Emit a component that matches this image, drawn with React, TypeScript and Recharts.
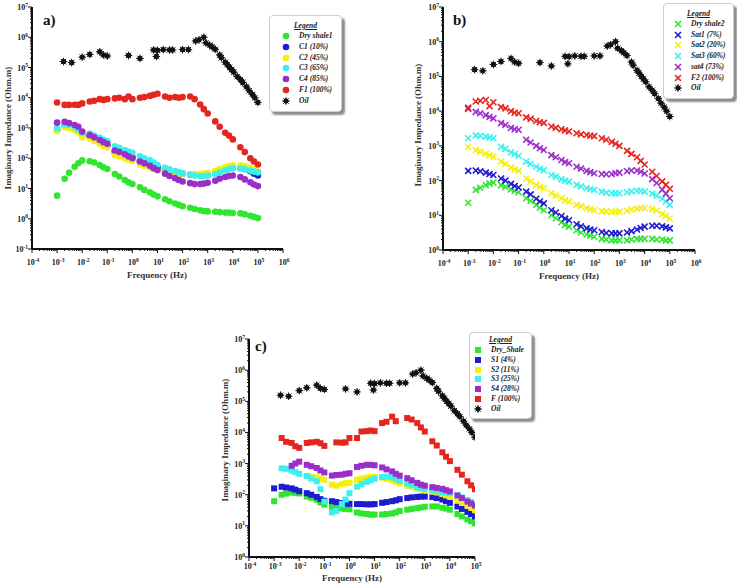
import React from "react";
import { ScatterChart, Scatter, XAxis, YAxis } from "recharts";

const SERIF = '"Liberation Serif", "Times New Roman", serif';

const GREEN = "#2fe62f";
const BLUE = "#1c1cd0";
const YELLOW = "#f4f00c";
const CYAN = "#3cf0f0";
const PURPLE = "#9a2ec9";
const RED = "#e4261f";
const BLACK = "#111";

// frequency sweep (Hz) used by every sample series
const FREQ = [
  0.001, 0.002, 0.003, 0.005, 0.007, 0.01, 0.02, 0.03, 0.05, 0.07, 0.1, 0.2, 0.3, 0.5, 0.7, 1, 2, 3, 5, 7,
  10, 20, 30, 50, 70, 100, 200, 300, 500, 700, 1000, 2000, 3000, 5000, 7000, 10000, 20000, 30000, 50000,
  70000, 100000,
];

// oil reference, identical in all three panels
const OIL_FREQ = [
  0.0018, 0.0038, 0.01, 0.02, 0.05, 0.07, 0.1, 0.7, 2, 7, 9, 10, 17, 30, 40, 100, 170, 330, 450, 700, 850,
  1200, 1500, 2000, 3000, 3500, 5000, 6000, 7500, 9000, 11000, 15000, 20000, 25000, 35000, 45000, 60000,
  75000, 100000,
];
const OIL_Z = [
  157000, 145000, 220000, 270000, 330000, 260000, 240000, 250000, 200000, 380000, 230000, 370000, 390000,
  380000, 380000, 390000, 390000, 750000, 820000, 1000000, 650000, 550000, 480000, 400000, 260000, 210000,
  150000, 125000, 100000, 85000, 70000, 50000, 40000, 32000, 23000, 17000, 13000, 10000, 7000,
];

// panel a) - shale 1
const DRY1 = [5.8, 21, 33, 52, 68, 85, 80, 72, 60, 50, 44, 30, 25, 19, 16, 14, 11, 9, 7.5, 6.3, 5.5, 4.4, 3.8, 3.2, 2.9, 2.6, 2.3, 2.1, 1.9, 1.8, 1.75, 1.7, 1.65, 1.6, 1.6, 1.55, 1.5, 1.4, 1.25, 1.15, 1.05];
const C1 = [850, 1150, 1100, 950, 800, 580, 520, 440, 360, 310, 270, 160, 150, 130, 115, 105, 80, 72, 62, 56, 50, 42, 38, 34, 32, 31, 29, 28, 27, 27, 28, 32, 37, 43, 47, 50, 48, 44, 37, 31, 27];
const C2 = [780, 1050, 980, 850, 720, 490, 440, 370, 300, 260, 230, 125, 115, 100, 90, 82, 62, 56, 49, 44, 40, 36, 34, 32, 31, 31, 30, 30, 30, 31, 33, 38, 44, 50, 55, 58, 58, 55, 48, 42, 37];
const C3 = [980, 1300, 1250, 1050, 900, 700, 650, 560, 470, 410, 370, 250, 220, 185, 165, 150, 115, 100, 85, 72, 60, 48, 43, 38, 35, 32, 29, 27, 26, 26, 27, 30, 34, 40, 44, 47, 46, 43, 39, 36, 34];
const C4 = [1500, 1600, 1450, 1250, 1100, 760, 580, 490, 400, 340, 300, 180, 160, 135, 115, 100, 78, 68, 56, 47, 41, 31, 26, 22, 19, 17, 15, 14, 14, 14.5, 15.5, 18, 21, 24, 26, 27, 24, 20, 16, 13.5, 12];
const F1 = [7000, 5800, 5800, 5900, 5800, 6500, 7500, 8000, 9000, 8500, 9000, 9500, 10000, 9000, 11000, 9000, 10000, 10500, 11500, 12500, 13500, 11000, 10000, 10500, 10000, 10500, 11000, 9000, 6000, 4200, 3000, 1650, 1100, 700, 560, 420, 230, 160, 100, 78, 62];

// panel b) - shale 2
const DRY2 = [23, 54, 62, 74, 82, 87, 74, 66, 56, 50, 46, 31, 26, 20, 16.5, 14, 10, 8.2, 6.3, 5.3, 4.7, 3.7, 3.2, 2.8, 2.6, 2.4, 2.1, 2.0, 1.9, 1.9, 1.9, 1.9, 2.0, 2.1, 2.1, 2.1, 2.1, 2.0, 2.0, 1.9, 1.9];
const SAT1 = [190, 195, 185, 170, 155, 145, 115, 100, 80, 70, 63, 48, 40, 30, 25, 22, 14, 12, 9.5, 8, 7.2, 5.5, 4.8, 4.2, 3.9, 3.7, 3.3, 3.1, 3.0, 3.0, 3.0, 3.2, 3.5, 3.9, 4.3, 4.7, 5.0, 5.0, 4.8, 4.5, 4.2];
const SAT2 = [940, 760, 680, 590, 530, 490, 350, 300, 240, 210, 190, 115, 95, 75, 66, 60, 43, 37, 31, 27, 25, 20, 18, 16, 15, 14, 13, 12.8, 12.5, 12.6, 12.8, 13.5, 14.5, 15.5, 16, 16, 15, 13.5, 11, 9.5, 8.1];
const SAT3 = [1650, 2000, 1950, 1850, 1750, 1650, 940, 820, 650, 580, 520, 350, 300, 250, 220, 200, 145, 130, 110, 100, 93, 75, 68, 60, 57, 54, 48, 45, 43, 43, 43, 46, 49, 51, 50, 48, 42, 37, 30, 25, 20];
const SAT4 = [11500, 9500, 8700, 7700, 6800, 6200, 4500, 4000, 3300, 3000, 2900, 1500, 1250, 1000, 850, 760, 540, 470, 390, 340, 315, 250, 220, 190, 175, 162, 155, 152, 155, 162, 170, 185, 195, 195, 180, 160, 110, 85, 55, 42, 31];
const F2 = [12600, 19000, 20000, 21000, 14000, 18000, 13000, 12000, 10000, 9000, 8700, 6600, 6000, 5200, 4800, 4600, 3600, 3300, 3000, 2800, 2600, 2300, 2150, 2050, 1950, 1900, 1650, 1500, 1300, 1150, 1000, 720, 590, 470, 370, 290, 180, 135, 95, 75, 58];

// panel c) - shale 3 (null = no reading at that frequency)
const DRY3 = [62, 100, 108, 117, 114, 110, 87, 80, 69, 56, 48, 40, 38, 36, 35, 34, 27, 25, 24, 23, 23, 23, 24, 25, 27, 30, 33, 35, 37, 39, 41, 42, 42, 38, 36, 33, 24, 20, 16, 14, 12];
const S1 = [160, 180, 170, 160, 145, 130, 112, 100, 85, 72, 64, 62, 58, 54, 52, 51, 50, 50, 49, 49, 50, 55, 58, 62, 66, 72, 78, 82, 85, 87, 87, 84, 78, 70, 62, 55, 42, 35, 28, 24, 20];
const S2 = [null, null, null, null, null, null, 400, 380, 360, 330, 300, 210, 195, 220, 235, 240, 300, 330, 350, 370, 380, 350, 320, 290, 260, 230, 195, 180, 160, 150, 140, 125, 118, 105, 95, 85, 65, 55, 45, 38, 32];
const S3 = [null, 700, 680, 600, 540, 470, 400, 330, 270, 150, 60, 27, 30, 50, 70, 112, 180, 220, 260, 290, 330, 370, 380, 360, 320, 280, 230, 200, 175, 165, 155, 140, 130, 122, 117, 112, 95, 82, 68, 58, 48];
const S4 = [null, null, null, 850, 1000, 1150, 910, 820, 720, 600, 520, 410, 430, 440, 470, 490, 780, 850, 910, 910, 880, 750, 650, 560, 470, 410, 340, 290, 240, 210, 195, 175, 165, 155, 140, 128, 95, 78, 60, 52, 45];
const F3 = [null, 6600, 5000, 4600, 3600, 3200, 4600, 4800, 5000, 4500, 3700, null, 4800, 4700, 4800, 6600, 6600, 10700, 11000, 11500, 11000, 20000, 22000, 32000, 23000, null, 29000, 26000, 20000, 14500, 10700, 5200, 3800, 2300, 1660, 1200, 630, 440, 270, 200, 150];

// decade exponents for the axis labels
const X_EXP_AB = [-4, -3, -2, -1, 0, 1, 2, 3, 4, 5, 6];
const X_EXP_C = [-4, -3, -2, -1, 0, 1, 2, 3, 4, 5];
const Y_EXP_A = [-1, 0, 1, 2, 3, 4, 5, 6, 7];
const Y_EXP_BC = [0, 1, 2, 3, 4, 5, 6, 7];

type Marker = "circle" | "cross" | "square" | "star";
type Point = { f: number; z: number };

interface Series {
  name: string;
  color: string;
  values: (number | null)[];
}

const toPoints = (freq: number[], values: (number | null)[]): Point[] =>
  values
    .map((z, i) => (z == null ? null : { f: freq[i], z }))
    .filter((p): p is Point => p !== null);

const OIL_POINTS = toPoints(OIL_FREQ, OIL_Z);

function Glyph({ kind, cx, cy, color }: { kind: Marker; cx: number; cy: number; color: string }) {
  if (kind === "circle") return <circle cx={cx} cy={cy} r={3.3} fill={color} />;
  if (kind === "square") return <rect x={cx - 3} y={cy - 3} width={6} height={6} fill={color} />;
  if (kind === "cross")
    return (
      <g stroke={color} strokeWidth={1.6}>
        <line x1={cx - 3} y1={cy - 3} x2={cx + 3} y2={cy + 3} />
        <line x1={cx - 3} y1={cy + 3} x2={cx + 3} y2={cy - 3} />
      </g>
    );
  return (
    <g stroke={color} strokeWidth={1}>
      {[0, 45, 90, 135].map((a) => {
        const dx = 3.8 * Math.cos((a * Math.PI) / 180);
        const dy = 3.8 * Math.sin((a * Math.PI) / 180);
        return <line key={a} x1={cx - dx} y1={cy - dy} x2={cx + dx} y2={cy + dy} />;
      })}
      <circle cx={cx} cy={cy} r={2.2} fill={color} />
    </g>
  );
}

// decades plus 2..9 minor marks between them
function logTicks(exps: number[]) {
  const out: number[] = [];
  exps.forEach((e, i) => {
    out.push(Math.pow(10, e));
    if (i < exps.length - 1) for (let m = 2; m <= 9; m++) out.push(m * Math.pow(10, e));
  });
  return out;
}

const decadeOf = (v: number) => {
  const l = Math.log10(v);
  return Math.abs(l - Math.round(l)) < 1e-6 ? Math.round(l) : null;
};

function PowerLabel({ x, y, exp, anchor }: { x: number; y: number; exp: number; anchor: "end" | "middle" }) {
  return (
    <text x={x} y={y} textAnchor={anchor} fontFamily={SERIF} fontWeight="bold" fontSize={8} fill="#222">
      10
      <tspan dy={-3.5} fontSize={5.5}>
        {exp}
      </tspan>
    </text>
  );
}

function XTick(props: any) {
  const { x, y, payload, gap } = props;
  const exp = decadeOf(payload.value);
  return (
    <g>
      <line x1={x} x2={x} y1={y} y2={y + (exp == null ? 2 : 4)} stroke={BLACK} />
      {exp != null && <PowerLabel x={x + 1} y={y + gap} exp={exp} anchor="middle" />}
    </g>
  );
}

function YTick(props: any) {
  const { x, y, payload } = props;
  const exp = decadeOf(payload.value);
  return (
    <g>
      <line x1={x - (exp == null ? 2 : 4)} x2={x} y1={y} y2={y} stroke={BLACK} />
      {exp != null && <PowerLabel x={x - 4} y={y + 3} exp={exp} anchor="end" />}
    </g>
  );
}

interface PanelProps {
  left: number;
  top: number;
  width: number;
  height: number;
  xExp: number[];
  yExp: number[];
  labelGap: number;
  marker: Marker;
  series: Series[];
}

function LogPanel({ left, top, width, height, xExp, yExp, labelGap, marker, series }: PanelProps) {
  const yw = 40;
  const xh = 26;
  const pad = 12;
  return (
    <div style={{ position: "absolute", left: left - yw, top: top - pad }}>
      <ScatterChart
        width={width + yw + pad}
        height={height + pad + xh}
        margin={{ top: pad, right: pad, bottom: 0, left: 0 }}
      >
        <XAxis
          type="number"
          dataKey="f"
          scale="log"
          domain={[Math.pow(10, xExp[0]), Math.pow(10, xExp[xExp.length - 1])]}
          allowDataOverflow
          ticks={logTicks(xExp)}
          interval={0}
          tick={(p: any) => <XTick {...p} gap={labelGap} />}
          tickLine={false}
          tickSize={0}
          tickMargin={0}
          height={xh}
          axisLine={{ stroke: BLACK, strokeWidth: 2 }}
        />
        <YAxis
          type="number"
          dataKey="z"
          scale="log"
          domain={[Math.pow(10, yExp[0]), Math.pow(10, yExp[yExp.length - 1])]}
          allowDataOverflow
          ticks={logTicks(yExp)}
          interval={0}
          tick={(p: any) => <YTick {...p} />}
          tickLine={false}
          tickSize={0}
          tickMargin={0}
          width={yw}
          axisLine={{ stroke: BLACK, strokeWidth: 2 }}
        />
        {series.map((s) => (
          <Scatter
            key={s.name}
            name={s.name}
            data={toPoints(FREQ, s.values)}
            isAnimationActive={false}
            shape={(p: any) => <Glyph kind={marker} cx={p.cx} cy={p.cy} color={s.color} />}
          />
        ))}
        <Scatter
          name="Oil"
          data={OIL_POINTS}
          isAnimationActive={false}
          shape={(p: any) => <Glyph kind="star" cx={p.cx} cy={p.cy} color={BLACK} />}
        />
      </ScatterChart>
    </div>
  );
}

interface LegendProps {
  left: number;
  top: number;
  width: number;
  height: number;
  firstRow: number;
  rowGap: number;
  markerX: number;
  textX: number;
  marker: Marker;
  series: Series[];
}

function LegendBox({ left, top, width, height, firstRow, rowGap, markerX, textX, marker, series }: LegendProps) {
  const rows = [...series.map((s) => ({ name: s.name, color: s.color, kind: marker })), { name: "Oil", color: BLACK, kind: "star" as Marker }];
  return (
    <div
      style={{
        position: "absolute",
        left,
        top,
        width,
        height,
        background: "#fff",
        border: "1px solid #cfcfcf",
        borderRadius: 4,
        boxShadow: "3px 3px 2px rgba(0,0,0,0.45)",
        fontFamily: SERIF,
        fontWeight: "bold",
        fontStyle: "italic",
        fontSize: 7.5,
        color: "#222",
      }}
    >
      <div style={{ position: "absolute", left: 0, right: 0, top: firstRow - 15, textAlign: "center", textDecoration: "underline" }}>
        Legend
      </div>
      {rows.map((r, i) => (
        <React.Fragment key={r.name}>
          <svg
            width={10}
            height={10}
            style={{ position: "absolute", left: markerX - 5, top: firstRow + i * rowGap - 5 }}
          >
            <Glyph kind={r.kind} cx={5} cy={5} color={r.color} />
          </svg>
          <div style={{ position: "absolute", left: textX, top: firstRow + i * rowGap - 5, whiteSpace: "nowrap", lineHeight: "10px" }}>
            {r.name}
          </div>
        </React.Fragment>
      ))}
    </div>
  );
}

const SERIES_A: Series[] = [
  { name: "Dry shale1", color: GREEN, values: DRY1 },
  { name: "C1 (10%)", color: BLUE, values: C1 },
  { name: "C2 (45%)", color: YELLOW, values: C2 },
  { name: "C3 (65%)", color: CYAN, values: C3 },
  { name: "C4 (85%)", color: PURPLE, values: C4 },
  { name: "F1 (100%)", color: RED, values: F1 },
];

const SERIES_B: Series[] = [
  { name: "Dry shale2", color: GREEN, values: DRY2 },
  { name: "Sat1 (7%)", color: BLUE, values: SAT1 },
  { name: "Sat2 (20%)", color: YELLOW, values: SAT2 },
  { name: "Sat3 (60%)", color: CYAN, values: SAT3 },
  { name: "sat4 (73%)", color: PURPLE, values: SAT4 },
  { name: "F2 (100%)", color: RED, values: F2 },
];

const SERIES_C: Series[] = [
  { name: "Dry_Shale", color: GREEN, values: DRY3 },
  { name: "S1 (4%)", color: BLUE, values: S1 },
  { name: "S2 (11%)", color: YELLOW, values: S2 },
  { name: "S3 (25%)", color: CYAN, values: S3 },
  { name: "S4 (28%)", color: PURPLE, values: S4 },
  { name: "F (100%)", color: RED, values: F3 },
];

const titleStyle: React.CSSProperties = {
  position: "absolute",
  fontFamily: SERIF,
  fontWeight: "bold",
  fontSize: 9,
  lineHeight: "10px",
  color: "#333",
  whiteSpace: "nowrap",
  transform: "translate(-50%, -50%)",
};

function AxisTitles({ fx, fy, ix, iy }: { fx: number; fy: number; ix: number; iy: number }) {
  return (
    <>
      <div style={{ ...titleStyle, left: fx, top: fy }}>Frequency (Hz)</div>
      <div style={{ ...titleStyle, left: ix, top: iy, transform: "translate(-50%, -50%) rotate(-90deg)" }}>
        Imaginary Impedance (Ohm.m)
      </div>
    </>
  );
}

const letterStyle: React.CSSProperties = {
  position: "absolute",
  fontFamily: SERIF,
  fontWeight: "bold",
  fontSize: 15,
  lineHeight: "15px",
  color: "#111",
};

export default function App() {
  return (
    <div style={{ position: "fixed", left: 0, top: 0, width: 737, height: 583, background: "#fff", overflow: "hidden" }}>
      <LogPanel left={32} top={7} width={251} height={242} xExp={X_EXP_AB} yExp={Y_EXP_A} labelGap={16} marker="circle" series={SERIES_A} />
      <AxisTitles fx={157} fy={275} ix={8} iy={128} />
      <div style={{ ...letterStyle, left: 43, top: 13 }}>a)</div>
      <LegendBox left={269} top={15} width={71} height={95} firstRow={20} rowGap={10.8} markerX={16} textX={29} marker="circle" series={SERIES_A} />

      <LogPanel left={443} top={7} width={252} height={243} xExp={X_EXP_AB} yExp={Y_EXP_BC} labelGap={16} marker="cross" series={SERIES_B} />
      <AxisTitles fx={569} fy={276} ix={418} iy={125} />
      <div style={{ ...letterStyle, left: 453, top: 13 }}>b)</div>
      <LegendBox left={663} top={3} width={69} height={94} firstRow={20} rowGap={10.7} markerX={14} textX={27} marker="cross" series={SERIES_B} />

      <LogPanel left={249} top={339} width={226} height={218} xExp={X_EXP_C} yExp={Y_EXP_BC} labelGap={12} marker="square" series={SERIES_C} />
      <AxisTitles fx={352} fy={578} ix={225} iy={440} />
      <div style={{ ...letterStyle, left: 255, top: 339 }}>c)</div>
      <LegendBox left={469} top={332} width={61} height={85} firstRow={17} rowGap={9.8} markerX={8} textX={21} marker="square" series={SERIES_C} />
    </div>
  );
}
